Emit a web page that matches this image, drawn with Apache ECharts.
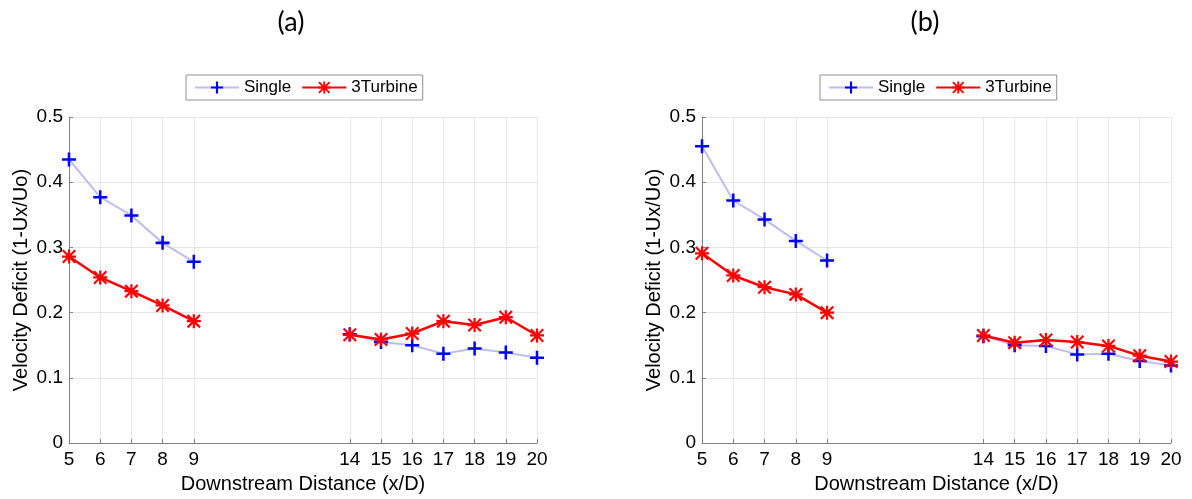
<!DOCTYPE html>
<html>
<head>
<meta charset="utf-8">
<script src="https://cdn.jsdelivr.net/npm/echarts@6/dist/echarts.min.js"></script>
<style>
  html, body { margin: 0; padding: 0; background: #ffffff; }
  #chart { width: 1192px; height: 499px; }
</style>
</head>
<body>
<div id="chart"></div>
<script>
// Downstream positions (x/D); 10-13 have no measurements
const distances = ['5','6','7','8','9','10','11','12','13','14','15','16','17','18','19','20'];
const xTickLabels = ['5','6','7','8','9','14','15','16','17','18','19','20'];
const yTicks = [0, 0.1, 0.2, 0.3, 0.4, 0.5];

// Panel (a)
const singleA    = [0.435, 0.377, 0.349, 0.307, 0.278, null, null, null, null, 0.167, 0.155, 0.150, 0.137, 0.145, 0.139, 0.131];
const turbine3A  = [0.286, 0.254, 0.233, 0.211, 0.187, null, null, null, null, 0.166, 0.159, 0.168, 0.187, 0.181, 0.193, 0.165];
// Panel (b)
const singleB    = [0.455, 0.372, 0.343, 0.310, 0.280, null, null, null, null, 0.164, 0.150, 0.149, 0.136, 0.137, 0.126, 0.119];
const turbine3B  = [0.291, 0.257, 0.239, 0.228, 0.200, null, null, null, null, 0.165, 0.154, 0.158, 0.155, 0.149, 0.134, 0.125];

const panelTitles = ['(a)', '(b)'];
const seriesNames = ['Single', '3Turbine'];
const xName = 'Downstream Distance (x/D)';
const yName = 'Velocity Deficit (1-Ux/Uo)';

// Marker shapes: plus and eight-armed asterisk
const PLUS = 'path://M4.1,0h1.8v10h-1.8z M0,4.1h10v1.8h-10z';
const STAR = 'path://M4.2,0h1.6v10h-1.6z M0,4.2h10v1.6h-10z M0,1.1L1.1,0L10,8.9L8.9,10Z M8.9,0L10,1.1L1.1,10L0,8.9Z';

const gridBoxes = [
  { left: 69, top: 117, width: 468, height: 327 },
  { left: 702, top: 117, width: 469, height: 327 }
];
const titleCenters = [291, 925];
const legendPos = [186, 820];

const AXIS_GREY = '#808080';
const GRID_GREY = '#e6e6e6';
const LABEL_FONT = 'Liberation Sans';

const showTickIdx = (idx) => xTickLabels.includes(distances[idx]);
const gap = v => (v === null ? '-' : v);

const chart = echarts.init(document.getElementById('chart'), null, { renderer: 'canvas' });

const option = {
  backgroundColor: '#ffffff',
  animation: false,
  // Panel captions
  graphic: panelTitles.map((t, i) => ({
    type: 'text',
    x: titleCenters[i],
    y: 22,
    style: {
      text: t,
      fontFamily: 'Lato',
      fontSize: 27,
      fill: '#000',
      align: 'center',
      verticalAlign: 'middle'
    }
  })),
  legend: legendPos.map((x, i) => ({
    data: seriesNames,
    left: x,
    top: 75,
    orient: 'horizontal',
    itemWidth: 44,
    itemHeight: 15,
    itemGap: 10,
    padding: [4, 5, 4, 8],
    borderColor: '#909090',
    borderWidth: 1,
    backgroundColor: '#ffffff',
    selectedMode: false,
    textStyle: { fontFamily: LABEL_FONT, fontSize: 17, color: '#000' }
  })),
  grid: gridBoxes.map(g => Object.assign({ containLabel: false }, g)),
  xAxis: gridBoxes.map((g, i) => ({
    type: 'category',
    gridIndex: i,
    data: distances,
    boundaryGap: false,
    name: xName,
    nameLocation: 'middle',
    nameGap: 25,
    nameTextStyle: { fontFamily: LABEL_FONT, fontSize: 20, color: '#000' },
    axisLine: { show: true, lineStyle: { color: AXIS_GREY, width: 1 } },
    axisTick: { show: true, inside: true, length: 4, interval: showTickIdx, lineStyle: { color: AXIS_GREY } },
    axisLabel: { interval: showTickIdx, margin: 7, fontFamily: LABEL_FONT, fontSize: 19, color: '#000' },
    splitLine: { show: true, interval: showTickIdx, lineStyle: { color: GRID_GREY, width: 1 } }
  })),
  yAxis: gridBoxes.map((g, i) => ({
    type: 'value',
    gridIndex: i,
    min: yTicks[0],
    max: yTicks[yTicks.length - 1],
    interval: 0.1,
    name: yName,
    nameLocation: 'middle',
    nameGap: 38,
    nameTextStyle: { fontFamily: LABEL_FONT, fontSize: 20, color: '#000' },
    axisLine: { show: true, lineStyle: { color: AXIS_GREY, width: 1 } },
    axisTick: { show: true, inside: true, length: 4, lineStyle: { color: AXIS_GREY } },
    axisLabel: { margin: 6, fontFamily: LABEL_FONT, fontSize: 19, color: '#000',
      formatter: v => (v === 0 ? '0' : String(Math.round(v * 10) / 10)) },
    splitLine: { show: true, lineStyle: { color: GRID_GREY, width: 1 } }
  })),
  series: []
};

const panels = [
  { single: singleA, turbine: turbine3A },
  { single: singleB, turbine: turbine3B }
];

panels.forEach((p, i) => {
  option.series.push({
    name: seriesNames[0],
    type: 'line',
    xAxisIndex: i,
    yAxisIndex: i,
    data: p.single.map(gap),
    connectNulls: false,
    symbol: PLUS,
    symbolSize: 14,
    showAllSymbol: true,
    lineStyle: { color: '#bdbdf5', width: 2 },
    itemStyle: { color: '#0000ff' },
    z: 2
  });
  option.series.push({
    name: seriesNames[1],
    type: 'line',
    xAxisIndex: i,
    yAxisIndex: i,
    data: p.turbine.map(gap),
    connectNulls: false,
    symbol: STAR,
    symbolSize: 14,
    showAllSymbol: true,
    lineStyle: { color: '#ff0000', width: 2.5 },
    itemStyle: { color: '#ff0000' },
    z: 3
  });
});

chart.setOption(option);
</script>
</body>
</html>
